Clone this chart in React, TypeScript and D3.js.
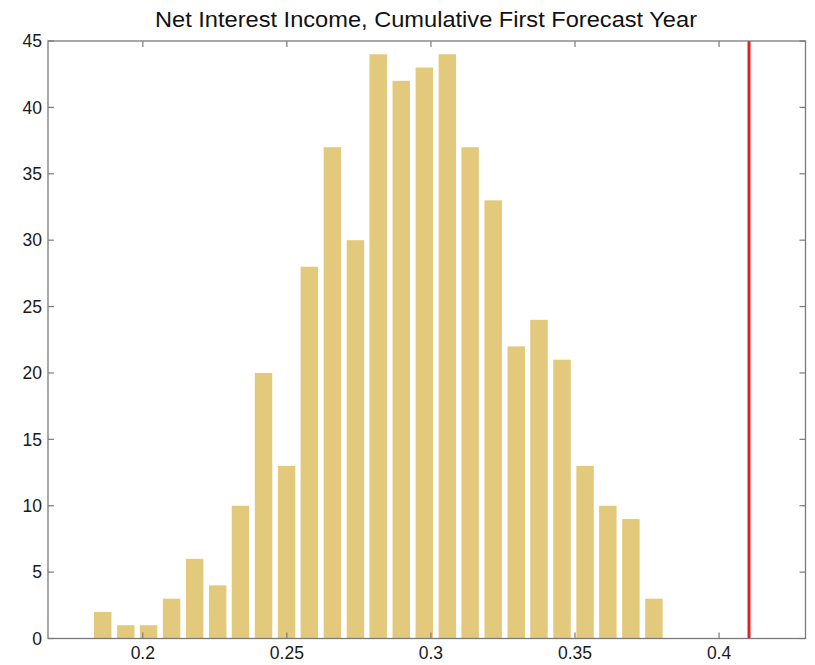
import React from "react";
import * as d3 from "d3";

// Histogram bins: bin centres and counts
const binCenters = [
  0.1861, 0.1941, 0.202, 0.21, 0.218, 0.226, 0.2339, 0.2419, 0.2499, 0.2578,
  0.2658, 0.2738, 0.2817, 0.2897, 0.2977, 0.3057, 0.3136, 0.3216, 0.3296,
  0.3375, 0.3455, 0.3535, 0.3614, 0.3694, 0.3774,
];
const binCounts = [
  2, 1, 1, 3, 6, 4, 10, 20, 13, 28, 37, 30, 44, 42, 43, 44, 37, 33, 22, 24,
  21, 13, 10, 9, 3,
];
const binWidth = 0.00797;
const actualValue = 0.4104;

const xTicks = [0.2, 0.25, 0.3, 0.35, 0.4];
const xTickLabels = ["0.2", "0.25", "0.3", "0.35", "0.4"];
const yTicks = [0, 5, 10, 15, 20, 25, 30, 35, 40, 45];
const xDomain = [0.1671, 0.43];
const yDomain = [0, 45];

const title = "Net Interest Income, Cumulative First Forecast Year";

const W = 815;
const H = 665;
const plot = { left: 48, right: 805.5, top: 41, bottom: 638.5 };

export default function App() {
  const x = d3.scaleLinear().domain(xDomain).range([plot.left, plot.right]);
  const y = d3.scaleLinear().domain(yDomain).range([plot.bottom, plot.top]);
  const barFrac = 0.76;
  const tickLen = 6;
  const axisColor = "#7a7a7a";
  const font = "Arial, 'Liberation Sans', Helvetica, sans-serif";

  return (
    <svg
      width={W}
      height={H}
      style={{ position: "absolute", left: 0, top: 0, background: "#fff" }}
    >
      <rect x={0} y={0} width={W} height={H} fill="#fff" />
      <text
        x={426}
        y={27}
        textAnchor="middle"
        fontFamily={font}
        fontSize={22}
        textLength={542}
        lengthAdjust="spacingAndGlyphs"
        fill="#111"
      >
        {title}
      </text>

      {binCenters.map((c, i) => {
        const x0 = x(c - (binWidth * barFrac) / 2);
        const x1 = x(c + (binWidth * barFrac) / 2);
        return (
          <rect
            key={i}
            x={x0}
            y={y(binCounts[i])}
            width={x1 - x0}
            height={y(0) - y(binCounts[i])}
            fill="#e3c97c"
          />
        );
      })}

      <line
        x1={x(actualValue)}
        x2={x(actualValue)}
        y1={plot.top}
        y2={plot.bottom}
        stroke="#d8231f"
        strokeWidth={3}
      />

      {/* box */}
      <rect
        x={plot.left}
        y={plot.top}
        width={plot.right - plot.left}
        height={plot.bottom - plot.top}
        fill="none"
        stroke={axisColor}
        strokeWidth={1.3}
      />

      {xTicks.map((t, i) => (
        <g key={"xt" + i}>
          <line
            x1={x(t)}
            x2={x(t)}
            y1={plot.bottom}
            y2={plot.bottom - tickLen}
            stroke={axisColor}
            strokeWidth={1.2}
          />
          <line
            x1={x(t)}
            x2={x(t)}
            y1={plot.top}
            y2={plot.top + tickLen}
            stroke={axisColor}
            strokeWidth={1.2}
          />
          <text
            x={x(t)}
            y={659}
            textAnchor="middle"
            fontFamily={font}
            fontSize={17.5}
            fill="#1a1a1a"
          >
            {xTickLabels[i]}
          </text>
        </g>
      ))}

      {yTicks.map((t, i) => (
        <g key={"yt" + i}>
          <line
            x1={plot.left}
            x2={plot.left + tickLen}
            y1={y(t)}
            y2={y(t)}
            stroke={axisColor}
            strokeWidth={1.2}
          />
          <line
            x1={plot.right}
            x2={plot.right - tickLen}
            y1={y(t)}
            y2={y(t)}
            stroke={axisColor}
            strokeWidth={1.2}
          />
          <text
            x={42}
            y={y(t)}
            dy="0.36em"
            textAnchor="end"
            fontFamily={font}
            fontSize={17.5}
            fill="#1a1a1a"
          >
            {t}
          </text>
        </g>
      ))}
    </svg>
  );
}
